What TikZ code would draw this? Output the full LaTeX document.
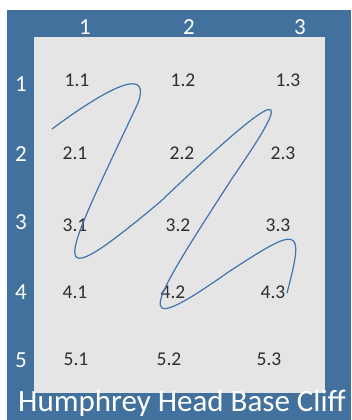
\documentclass[tikz,border=0pt]{standalone}
\usepackage{fontspec}
\setmainfont{Carlito}
\usepackage{tikz}
\definecolor{frameBlue}{HTML}{41719C}
\definecolor{curveBlue}{HTML}{3F74B0}
\definecolor{cellGrey}{HTML}{E5E5E5}
\definecolor{textGrey}{HTML}{2E2E2E}

\begin{document}
\begin{tikzpicture}[x=1pt, y=1pt,
    cellLabel/.style={text=textGrey, inner sep=0pt, font=\fontsize{19.5}{21}\selectfont},
    headLabel/.style={text=white, inner sep=0pt, font=\fontsize{23}{25}\selectfont}]
    \useasboundingbox (0,0) rectangle (351,-420);
    \clip (0,0) rectangle (351,-420);

    % cadre et fond
    \fill[frameBlue] (7,-10) rectangle (351,-420);
    \fill[cellGrey]  (34,-37) rectangle (325,-393);

    % en-tetes colonnes / lignes
    \foreach \c/\x in {1/85, 2/189, 3/300}
      \node[headLabel] (col\c) at (\x,-27) {\c};
    \foreach \r/\y in {1/84, 2/154, 3/222, 4/292, 5/360}
      \node[headLabel] (row\r) at (21,-\y) {\r};

    % cases
    \foreach \r/\y/\xa/\xb/\xc in {1/80/77/183/288, 2/153/75/182/283,
        3/225/75/178/278, 4/292/75/173/273, 5/359/76/169/269} {
      \node[cellLabel] (c\r1) at (\xa,-\y) {\r.1};
      \node[cellLabel] (c\r2) at (\xb,-\y) {\r.2};
      \node[cellLabel] (c\r3) at (\xc,-\y) {\r.3};
    }

    % trace en zigzag
    \draw[curveBlue, line width=1.2pt, line cap=round]
      (52,-129) .. controls (118,-80) and (150,-70) .. (138,-103)
      .. controls (62,-265) and (38,-304) .. (160,-202)
      .. controls (288,-80) and (296,-86) .. (233,-177)
      .. controls (150,-305) and (125,-345) .. (227,-273)
      .. controls (300,-225) and (305,-225) .. (287,-293);

    % titre
    \node[text=white, inner sep=0pt, anchor=base west,
      font=\fontsize{31}{33}\selectfont] (title) at (18,-411) {Humphrey Head Base Cliff};
  \end{tikzpicture}
\end{document}
